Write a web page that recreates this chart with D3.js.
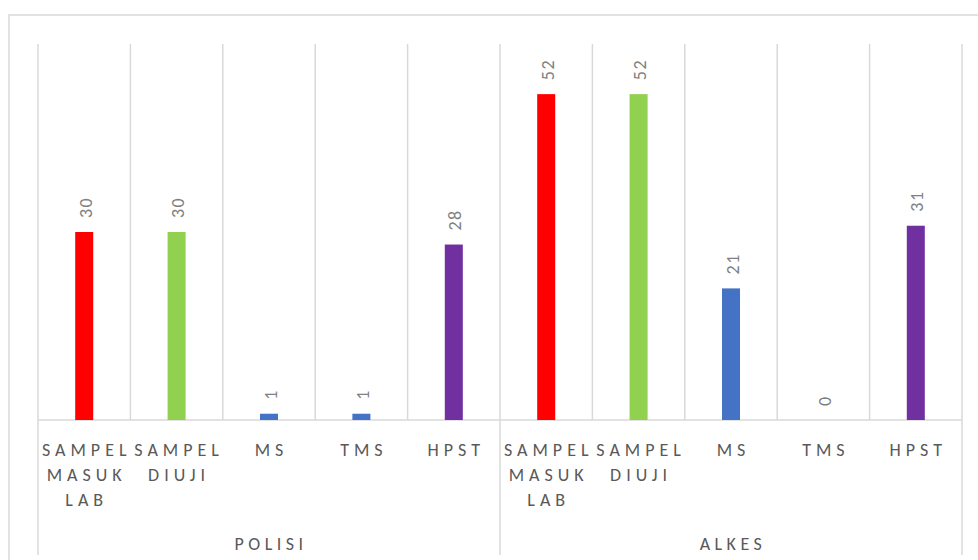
<!DOCTYPE html>
<html>
<head>
<meta charset="utf-8">
<script src="https://cdn.jsdelivr.net/npm/d3@7"></script>
<style>
  html, body { margin: 0; padding: 0; background: #fff; }
  svg { display: block; }
  text { font-family: Carlito, Lato, "Liberation Sans", sans-serif; }
</style>
</head>
<body>
<svg id="chart" width="978" height="560"></svg>
<script>
// ---- data ----
const groups = ["POLISI", "ALKES"];
const categories = ["SAMPEL MASUK LAB", "SAMPEL DIUJI", "MS", "TMS", "HPST"];
const polisiValues = [30, 30, 1, 1, 28];
const alkesValues = [52, 52, 21, 0, 31];
const categoryColors = ["#ff0000", "#92d050", "#4472c4", "#4472c4", "#7030a0"];
const yMax = 60;

// build flat rows
const rows = [];
[polisiValues, alkesValues].forEach((vals, gi) => {
  vals.forEach((v, ci) => rows.push({ key: gi + "-" + ci, group: groups[gi], cat: categories[ci], ci, value: v }));
});

const svg = d3.select("#chart");
const plotLeft = 38, plotRight = 962, plotTop = 44, plotBase = 420;

// outer border
svg.append("rect").attr("x", 9).attr("y", 15).attr("width", 1000).attr("height", 600)
  .attr("fill", "none").attr("stroke", "#d9d9d9").attr("stroke-width", 1.5);

const x = d3.scaleBand().domain(rows.map(d => d.key)).range([plotLeft, plotRight])
  .paddingInner(0.805).paddingOuter(0.4025);
const step = x.step();
const y = d3.scaleLinear().domain([0, yMax]).range([plotBase, plotTop]);

// vertical gridlines between categories
const bounds = d3.range(rows.length + 1).map(i => plotLeft + i * step);
svg.append("g").selectAll("line").data(bounds).join("line")
  .attr("x1", d => d).attr("x2", d => d)
  .attr("y1", plotTop).attr("y2", plotBase)
  .attr("stroke", "#d9d9d9").attr("stroke-width", 1.5);

// group separators below axis
const groupBounds = [0, categories.length, rows.length].map(i => plotLeft + i * step);
svg.append("g").selectAll("line").data(groupBounds).join("line")
  .attr("x1", d => d).attr("x2", d => d)
  .attr("y1", plotBase).attr("y2", 555)
  .attr("stroke", "#d9d9d9").attr("stroke-width", 1.5);

// axis line
svg.append("line").attr("x1", plotLeft).attr("x2", plotRight).attr("y1", plotBase).attr("y2", plotBase)
  .attr("stroke", "#d9d9d9").attr("stroke-width", 1.5);

// bars
svg.append("g").selectAll("rect").data(rows).join("rect")
  .attr("x", d => x(d.key))
  .attr("width", x.bandwidth())
  .attr("y", d => y(d.value))
  .attr("height", d => plotBase - y(d.value))
  .attr("fill", d => categoryColors[d.ci]);

// data labels (rotated)
svg.append("g").selectAll("text").data(rows).join("text")
  .attr("transform", d => `translate(${x(d.key) + x.bandwidth() / 2},${y(d.value) - 14}) rotate(-90)`)
  .attr("dy", "0.42em")
  .attr("text-anchor", "start")
  .attr("font-size", 18)
  .attr("letter-spacing", 1.5)
  .attr("fill", "#808080")
  .text(d => d.value);

// category axis labels
const xAxis = d3.axisBottom(x).tickSize(0).tickFormat(k => rows.find(r => r.key === k).cat);
const axisG = svg.append("g").attr("transform", `translate(0,${plotBase})`).call(xAxis);
axisG.select(".domain").remove();
axisG.selectAll(".tick text").each(function() {
  const t = d3.select(this);
  const words = t.text().split(" ");
  t.text(null)
    .attr("y", 0).attr("dy", null)
    .attr("font-size", 18)
    .attr("letter-spacing", 5)
    .attr("fill", "#595959")
    .attr("font-family", "Carlito, Lato, 'Liberation Sans', sans-serif");
  words.forEach((w, i) => {
    t.append("tspan").attr("x", 2.5).attr("y", 36 + i * 25).text(w);
  });
});

// group labels
svg.append("g").selectAll("text").data(groups).join("text")
  .attr("x", (d, i) => (groupBounds[i] + groupBounds[i + 1]) / 2 + 2)
  .attr("y", 550)
  .attr("text-anchor", "middle")
  .attr("font-size", 18)
  .attr("letter-spacing", 4.5)
  .attr("fill", "#595959")
  .text(d => d);
</script>
</body>
</html>
